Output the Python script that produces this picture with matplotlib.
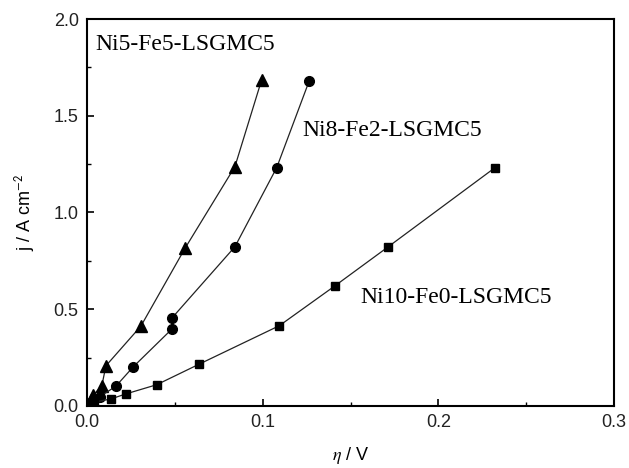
import matplotlib
matplotlib.use("Agg")
import matplotlib.pyplot as plt
from matplotlib.ticker import MultipleLocator, FormatStrFormatter

plt.rcParams["mathtext.fontset"] = "stix"

# Ni5-Fe5-LSGMC5 (triangles)
eta_ni5 = [0.0, 0.001, 0.002, 0.0036, 0.0084, 0.0108, 0.0307, 0.0558, 0.0842, 0.0994]
j_ni5 = [0.0, 0.012, 0.03, 0.057, 0.103, 0.208, 0.413, 0.815, 1.237, 1.685]

# Ni8-Fe2-LSGMC5 (circles)
eta_ni8 = [0.0, 0.001, 0.003, 0.0074, 0.0165, 0.0264, 0.0486, 0.0482, 0.0842, 0.108, 0.1264]
j_ni8 = [0.0, 0.006, 0.02, 0.048, 0.103, 0.203, 0.40, 0.453, 0.823, 1.232, 1.678]

# Ni10-Fe0-LSGMC5 (squares)
eta_ni10 = [0.0, 0.001, 0.004, 0.0135, 0.022, 0.0397, 0.0638, 0.1095, 0.141, 0.1715, 0.232]
j_ni10 = [0.0, 0.005, 0.02, 0.036, 0.062, 0.11, 0.216, 0.415, 0.62, 0.823, 1.23]

fig = plt.figure(figsize=(6.29, 4.68), dpi=100)
ax = fig.add_axes([0.1383, 0.1325, 0.8379, 0.8269])

lc = "#222222"
ax.plot(eta_ni5, j_ni5, "-", color=lc, lw=0.9, marker="^", ms=8, mfc="black", mec="black")
ax.plot(eta_ni8, j_ni8, "-", color=lc, lw=0.9, marker="o", ms=7, mfc="black", mec="black")
ax.plot(eta_ni10, j_ni10, "-", color=lc, lw=0.9, marker="s", ms=5.5, mfc="black", mec="black")

ax.set_xlim(0, 0.3)
ax.set_ylim(0, 2.0)
ax.xaxis.set_major_locator(MultipleLocator(0.1))
ax.xaxis.set_minor_locator(MultipleLocator(0.05))
ax.yaxis.set_major_locator(MultipleLocator(0.5))
ax.yaxis.set_minor_locator(MultipleLocator(0.25))
ax.xaxis.set_major_formatter(FormatStrFormatter("%.1f"))
ax.yaxis.set_major_formatter(FormatStrFormatter("%.1f"))
ax.tick_params(which="both", direction="in", top=False, right=False)
ax.tick_params(which="major", length=5, width=1.2, labelsize=13, pad=6, labelcolor="#222222")
ax.tick_params(which="minor", length=3, width=1.0)
for lab in ax.get_xticklabels() + ax.get_yticklabels():
    lab.set_fontfamily("Liberation Sans")
for s in ax.spines.values():
    s.set_linewidth(1.5)

ax.set_xlabel(r"$\eta$ / V", fontsize=13, family="Liberation Sans", labelpad=10)
ax.set_ylabel(r"j / A cm$^{\mathsf{-2}}$", fontsize=13, family="Liberation Sans", labelpad=12)

serif = "Liberation Serif"
ax.text(0.0046, 1.866, "Ni5-Fe5-LSGMC5", family=serif, fontsize=17, va="center", ha="left")
ax.text(0.1224, 1.426, "Ni8-Fe2-LSGMC5", family=serif, fontsize=17, va="center", ha="left")
ax.text(0.1554, 0.563, "Ni10-Fe0-LSGMC5", family=serif, fontsize=17, va="center", ha="left")

fig.savefig("out.png", dpi=100)
